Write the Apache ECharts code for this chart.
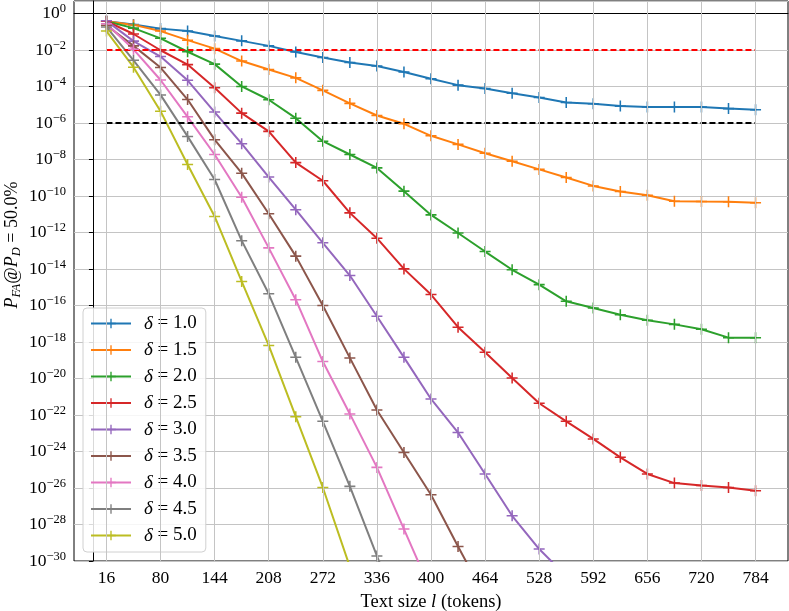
<!DOCTYPE html>
<html lang="en">
  <head>
    <meta charset="UTF-8">
    <title>PFA vs text size</title>
    <style>
      html, body { margin: 0; padding: 0; background: #fff; }
      #main { width: 789px; height: 611px; }
    </style>
  </head>
  <body>
    <div id="main"></div>
    <script src="https://cdn.jsdelivr.net/npm/echarts@6/dist/echarts.min.js"></script>
    <script type="text/javascript">
      // text sizes (tokens)
      var sizes = [16, 48, 80, 112, 144, 176, 208, 240, 272, 304, 336, 368, 400,
                   432, 464, 496, 528, 560, 592, 624, 656, 688, 720, 752, 784];
      var xTicks = [16, 80, 144, 208, 272, 336, 400, 464, 528, 592, 656, 720, 784];

      // P_FA values, one array per delta
      var d10 = [3.8e-1, 2.5e-1, 1.5e-1, 1.1e-1, 5.9e-2, 3.2e-2, 1.7e-2, 7.8e-3, 3.9e-3, 2.1e-3,
                 1.35e-3, 6.3e-4, 2.7e-4, 1.2e-4, 7.9e-5, 4.3e-5, 2.5e-5, 1.35e-5, 1.15e-5,
                 8.5e-6, 7.6e-6, 7.6e-6, 7.6e-6, 6.2e-6, 5.4e-6];
      var d15 = [3.8e-1, 2.4e-1, 1.1e-1, 3.5e-2, 1.2e-2, 2.5e-3, 8.7e-4, 3.0e-4, 6.2e-5, 1.2e-5,
                 2.6e-6, 9.1e-7, 2.0e-7, 6.8e-8, 2.2e-8, 8.1e-9, 2.9e-9, 1.05e-9, 3.6e-10,
                 1.8e-10, 1.1e-10, 5.2e-11, 5.0e-11, 4.9e-11, 4.3e-11];
      var d20 = [3.8e-1, 1.6e-1, 4.4e-2, 8.1e-3, 1.7e-3, 1.02e-4, 1.9e-5, 1.86e-6, 1.02e-7, 1.9e-8,
                 3.5e-9, 1.86e-10, 9.3e-12, 9.5e-13, 9.1e-14, 9.1e-15, 1.4e-15, 1.7e-16, 7.4e-17,
                 3.1e-17, 1.55e-17, 9.3e-18, 5.0e-18, 1.74e-18, 1.74e-18];
      var d25 = [3.8e-1, 7.6e-2, 9.8e-3, 1.6e-3, 8.7e-5, 3.5e-6, 3.5e-7, 6.8e-9, 6.9e-10, 1.2e-11,
                 4.9e-13, 1.02e-14, 4.0e-16, 6.5e-18, 2.75e-19, 1.07e-20, 4.4e-22, 4.5e-23, 4.9e-24,
                 4.8e-25, 5.9e-26, 1.86e-26, 1.38e-26, 1.07e-26, 7.1e-27];
      var d30 = [4.0e-1, 3.1e-2, 4.4e-3, 2.2e-4, 4.0e-6, 7.4e-8, 1.1e-9, 1.8e-11, 2.75e-13, 4.4e-15,
                 2.6e-17, 1.45e-19, 7.6e-22, 1.1e-23, 5.9e-26, 3.0e-28, 4.5e-30, 1.5e-31];
      var d35 = [2.3e-1, 1.7e-2, 1.1e-3, 1.95e-5, 1.23e-7, 1.8e-9, 1.07e-11, 5.1e-14, 1.0e-16,
                 1.35e-19, 1.9e-22, 8.9e-25, 4.3e-27, 6.3e-30, 1.07e-32];
      var d40 = [2.8e-1, 1.1e-2, 2.3e-4, 2.2e-6, 1.9e-8, 8.7e-11, 1.45e-13, 2.1e-16, 8.5e-20,
                 1.15e-22, 1.35e-25, 5.6e-29, 2.3e-32];
      var d45 = [1.86e-1, 2.75e-3, 3.5e-5, 1.86e-7, 8.1e-10, 3.6e-13, 4.4e-16, 1.45e-19, 4.5e-23,
                 1.23e-26, 1.9e-30, 4.0e-34];
      var d50 = [1.1e-1, 1.15e-3, 4.5e-6, 5.4e-9, 7.6e-12, 2.1e-15, 6.5e-19, 8.1e-23, 1.07e-26, 4.8e-31];

      var deltaNames = ['δ = 1.0', 'δ = 1.5', 'δ = 2.0', 'δ = 2.5', 'δ = 3.0',
                        'δ = 3.5', 'δ = 4.0', 'δ = 4.5', 'δ = 5.0'];
      var deltaData = [d10, d15, d20, d25, d30, d35, d40, d45, d50];
      var colors = ['#1f77b4', '#ff7f0e', '#2ca02c', '#d62728', '#9467bd',
                    '#8c564b', '#e377c2', '#7f7f7f', '#bcbd22'];

      // threshold lines
      var redLevel = 1e-2;
      var blackLevel = 1e-6;

      var serif = '"Liberation Serif", "DejaVu Serif", serif';
      var plus = 'path://M4.3,0 H5.7 V4.3 H10 V5.7 H5.7 V10 H4.3 V5.7 H0 V4.3 H4.3 Z';
      var gridColor = '#c4c4c4';

      // the y axis is a value axis on log10(P_FA); labels show the powers of ten
      function toLog(v) { return Math.log10(v); }

      // vertical grid lines at the x ticks (16, 80, ...), which are not multiples of the step
      var series = [{
        type: 'line',
        data: [],
        z: 1,
        silent: true,
        markLine: {
          silent: true,
          symbol: 'none',
          label: { show: false },
          emphasis: { disabled: true },
          lineStyle: { color: gridColor, width: 1, type: 'solid' },
          data: xTicks.map(function(x) { return { xAxis: x }; })
        }
      }];

      deltaNames.forEach(function(name, i) {
        series.push({
          name: name,
          type: 'line',
          data: deltaData[i].map(function(v, j) { return [sizes[j], toLog(v)]; }),
          color: colors[i],
          symbol: plus,
          symbolSize: 11,
          showAllSymbol: true,
          lineStyle: { width: 2 },
          clip: true,
          silent: true
        });
      });

      function hline(level, color) {
        return {
          type: 'line',
          data: [[sizes[0], toLog(level)], [sizes[sizes.length - 1], toLog(level)]],
          symbol: 'none',
          color: color,
          lineStyle: { width: 2, type: [6, 3] },
          silent: true
        };
      }
      series.push(hline(redLevel, '#ff0000'));
      series.push(hline(blackLevel, '#000000'));

      var myChart = echarts.init(document.getElementById('main'));
      var option = {
        backgroundColor: '#fff',
        animation: false,
        grid: {
          left: 74, right: 1, top: 1, bottom: 50,
          outerBoundsMode: 'none',
          containLabel: false,
          show: true, borderColor: '#000', borderWidth: 1
        },
        legend: {
          data: deltaNames,
          orient: 'vertical',
          left: 83, top: 308,
          padding: [6, 9, 7, 7],
          itemWidth: 40, itemHeight: 12, itemGap: 7.5,
          backgroundColor: 'rgba(255,255,255,0.85)',
          borderColor: '#d0d0d0', borderWidth: 1, borderRadius: 4,
          formatter: function(name) {
            return '{d|δ}{n|' + name.slice(1) + '}';
          },
          textStyle: {
            padding: [0, 0, 0, 8],
            rich: {
              d: { fontFamily: serif, fontStyle: 'italic', fontSize: 19, lineHeight: 18, color: '#000' },
              n: { fontFamily: serif, fontSize: 19, lineHeight: 18, color: '#000' }
            }
          }
        },
        xAxis: {
          type: 'value',
          min: -22.4, max: 822.4,
          name: '{n|Text size }{i|l}{n| (tokens)}',
          nameLocation: 'middle',
          nameGap: 32,
          nameTextStyle: {
            rich: {
              n: { fontFamily: serif, fontSize: 18.5, color: '#000' },
              i: { fontFamily: serif, fontStyle: 'italic', fontSize: 18.5, color: '#000' }
            }
          },
          axisLine: { show: true, lineStyle: { color: '#000', width: 1 } },
          axisTick: { show: true, length: 4, lineStyle: { color: '#000' }, customValues: xTicks },
          axisLabel: { fontFamily: serif, fontSize: 17.5, color: '#000', margin: 8, customValues: xTicks },
          splitLine: { show: false }
        },
        yAxis: {
          type: 'value',
          min: -30, max: 0.69,
          interval: 2,
          axisLine: { show: true, lineStyle: { color: '#000', width: 1 } },
          axisTick: { show: true, length: 4, lineStyle: { color: '#000' } },
          axisLabel: {
            margin: 8,
            showMaxLabel: false,
            formatter: function(value) {
              var r = Math.round(value);
              if (Math.abs(value - r) > 1e-6) return '';
              return '{b|10}{s|' + (r < 0 ? '\u2212' + (-r) : r) + '}';
            },
            rich: {
              b: { fontFamily: serif, fontSize: 17.5, color: '#000', lineHeight: 22, verticalAlign: 'middle' },
              s: { fontFamily: serif, fontSize: 12.5, color: '#000', lineHeight: 11, verticalAlign: 'top' }
            }
          },
          splitLine: { show: true, lineStyle: { color: gridColor, width: 1 } }
        },
        graphic: [{
          type: 'text',
          x: 12, y: 245,
          rotation: Math.PI / 2,
          style: {
            text: '{i|P}{s|FA}{n|@}{i|P}{s|D}{n| = 50.0%}',
            align: 'center',
            verticalAlign: 'middle',
            rich: {
              i: { fontFamily: serif, fontStyle: 'italic', fontSize: 18, fill: '#000', lineHeight: 22, verticalAlign: 'middle' },
              n: { fontFamily: serif, fontSize: 18, fill: '#000', lineHeight: 22, verticalAlign: 'middle' },
              s: { fontFamily: serif, fontStyle: 'italic', fontSize: 12.5, fill: '#000', lineHeight: 12, verticalAlign: 'bottom' }
            }
          }
        }],
        series: series
      };
      myChart.setOption(option);
    </script>
  </body>
</html>
